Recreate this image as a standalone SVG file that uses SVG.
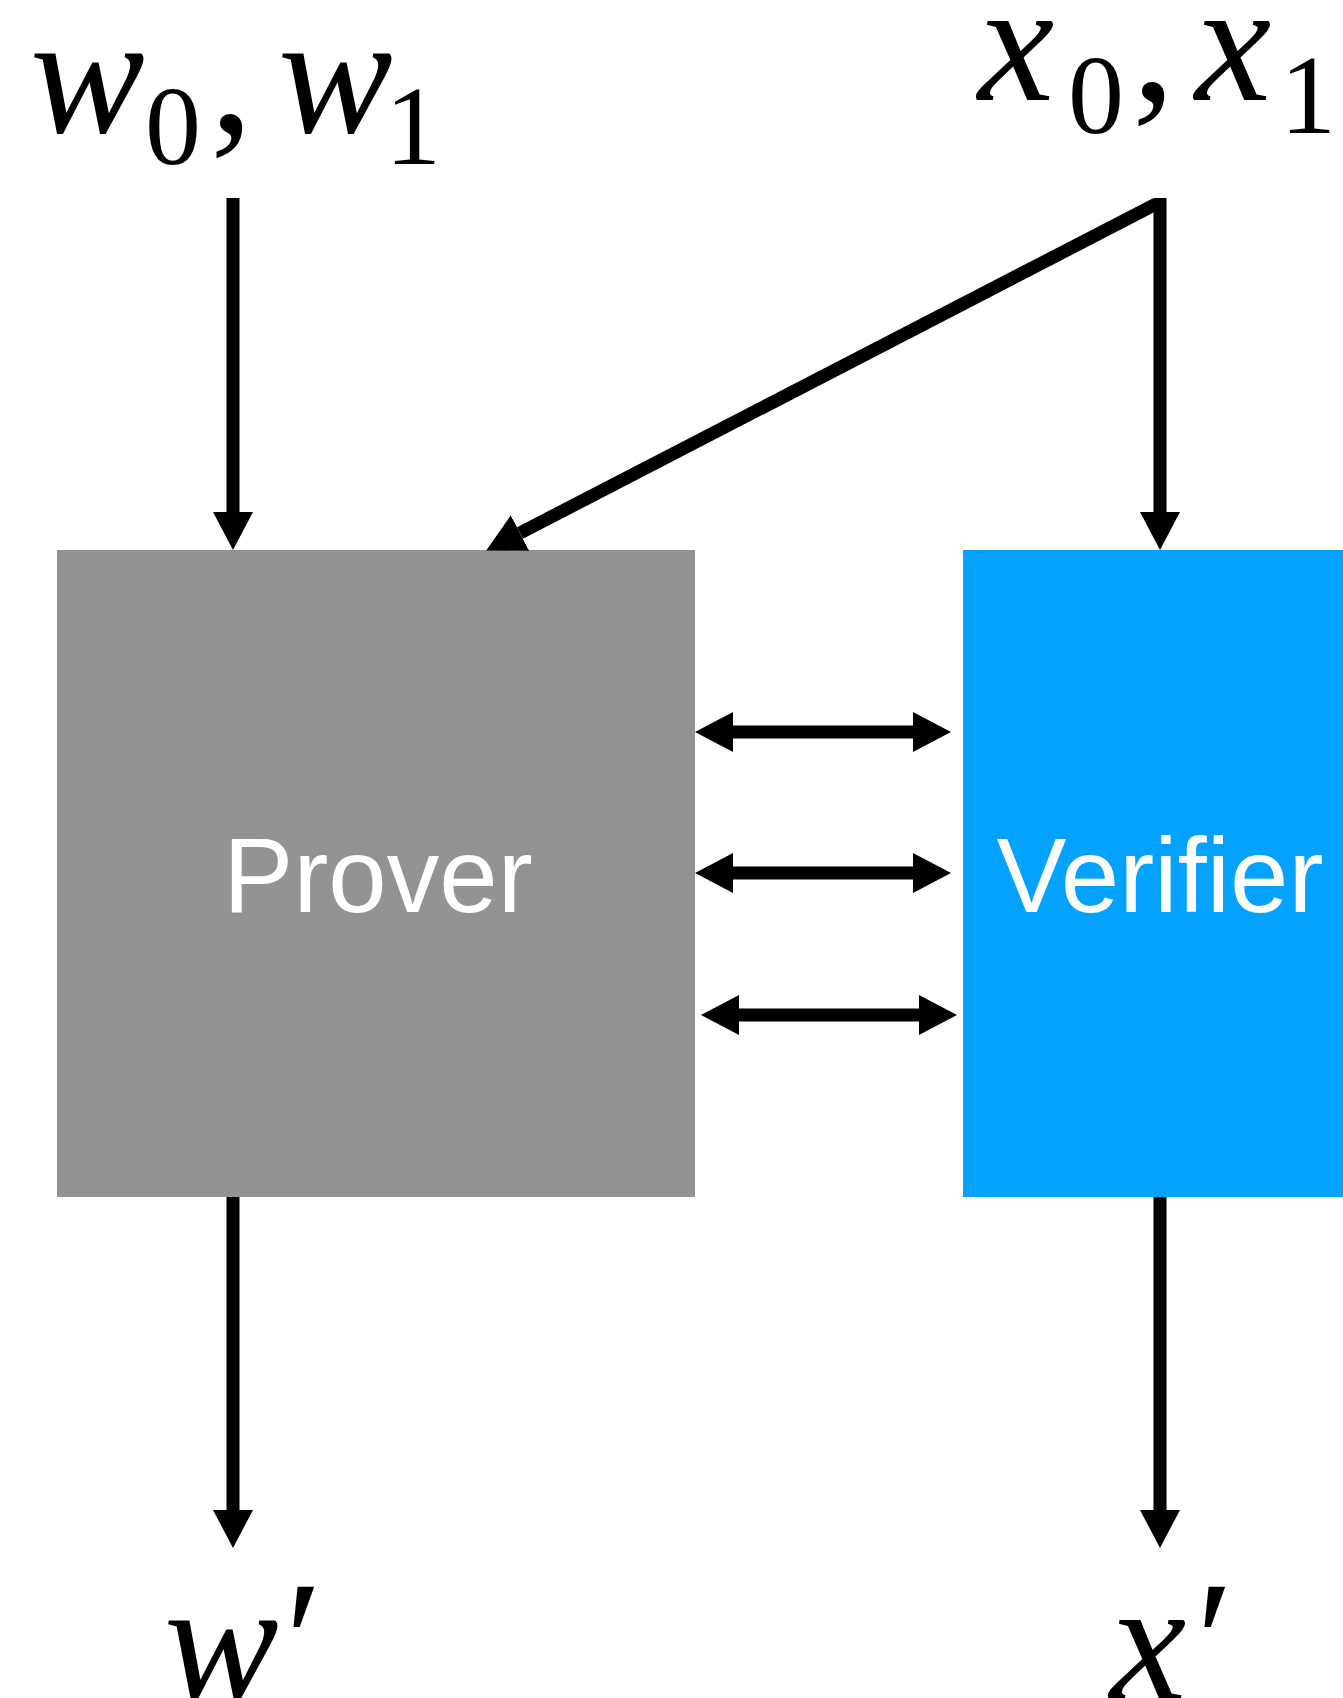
<svg xmlns="http://www.w3.org/2000/svg" width="1343" height="1698" viewBox="0 0 1343 1698">
  <style>
    .math { font-family: "Liberation Serif", "DejaVu Serif", serif; font-style: italic; fill: #000; font-size: 172px; }
    .sub { font-style: normal; font-size: 112px; }
    .up { font-style: normal; }
    .label { font-family: "Liberation Sans", Arial, sans-serif; font-size: 105px; fill: #fff; }
    .wire { stroke: #000; stroke-width: 13; fill: none; }
  </style>
  <defs>
    <marker id="head" markerUnits="userSpaceOnUse" viewBox="0 0 38 40" refX="0" refY="20" markerWidth="38" markerHeight="40" orient="auto-start-reverse">
      <polygon points="0,0 38,20 0,40" fill="#000"/>
    </marker>
  </defs>

  <rect width="1343" height="1698" fill="#fff"/>

  <!-- inputs -->
  <g id="input-w">
    <text class="math"><tspan x="30" y="132">w</tspan><tspan class="sub" x="145" y="164">0</tspan><tspan class="up" x="210" y="132">,</tspan><tspan x="278" y="132">w</tspan><tspan class="sub" x="385" y="164">1</tspan></text>
  </g>
  <g id="input-x">
    <text class="math"><tspan x="978" y="100">x</tspan><tspan class="sub" x="1068" y="133">0</tspan><tspan class="up" x="1132" y="100">,</tspan><tspan x="1195" y="100">x</tspan><tspan class="sub" x="1280" y="133">1</tspan></text>
  </g>

  <!-- parties -->
  <g id="prover">
    <rect x="57" y="550" width="638" height="647" fill="#939393"/>
    <text class="label" x="378" y="912" text-anchor="middle">Prover</text>
  </g>
  <g id="verifier">
    <rect x="963" y="550" width="380" height="647" fill="#04A2FF"/>
    <text class="label" x="1160" y="912" text-anchor="middle">Verifier</text>
  </g>

  <!-- outputs -->
  <g id="output-w">
    <text class="math"><tspan x="164" y="1699">w</tspan><tspan class="up" x="285" y="1699">′</tspan></text>
  </g>
  <g id="output-x">
    <text class="math"><tspan x="1110" y="1699">x</tspan><tspan class="up" x="1196" y="1699">′</tspan></text>
  </g>

  <!-- connectors -->
  <g id="connectors">
    <line class="wire" x1="233" y1="198" x2="233" y2="512" marker-end="url(#head)"/>
    <line class="wire" x1="1160" y1="198" x2="1160" y2="512" marker-end="url(#head)"/>
    <line class="wire" x1="1156" y1="204" x2="520" y2="533" marker-end="url(#head)"/>

    <line class="wire" x1="733" y1="732" x2="913" y2="732" marker-start="url(#head)" marker-end="url(#head)"/>
    <line class="wire" x1="733" y1="873" x2="913" y2="873" marker-start="url(#head)" marker-end="url(#head)"/>
    <line class="wire" x1="739" y1="1015" x2="919" y2="1015" marker-start="url(#head)" marker-end="url(#head)"/>

    <line class="wire" x1="233" y1="1197" x2="233" y2="1510" marker-end="url(#head)"/>
    <line class="wire" x1="1160" y1="1197" x2="1160" y2="1510" marker-end="url(#head)"/>
  </g>
</svg>
